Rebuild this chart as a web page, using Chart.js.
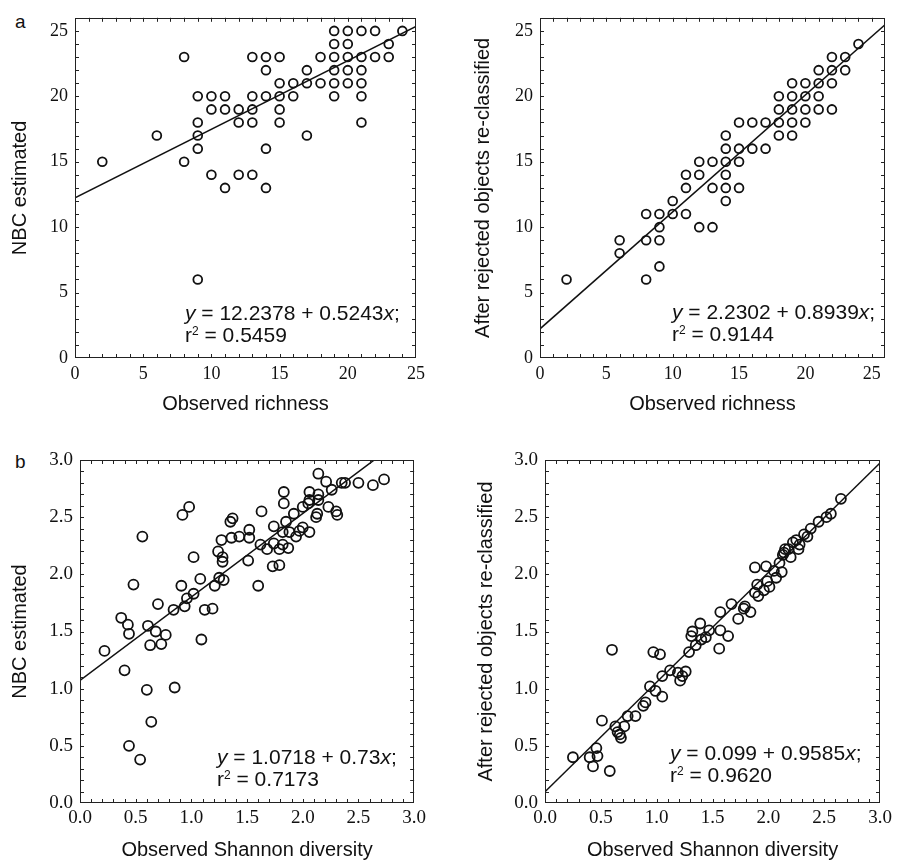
<!DOCTYPE html>
<html>
<head>
<meta charset="utf-8">
<script src="https://cdn.jsdelivr.net/npm/chart.js@4/dist/chart.umd.min.js"></script>
<style>
  html, body { margin: 0; padding: 0; background: #fff; }
  body { width: 898px; height: 862px; position: relative; overflow: hidden;
         font-family: "Liberation Sans", Arial, sans-serif; color: #111; }
  .panel { position: absolute; }
  .eq { position: absolute; font-size: 21px; line-height: 22px; white-space: nowrap; }
  .eq sup { font-size: 12px; vertical-align: 7px; line-height: 0; }
  .tag { position: absolute; font-size: 19px; line-height: 22px; }
</style>
</head>
<body>
<div class="tag" style="left:15px; top:11px;">a</div>
<div class="tag" style="left:15px; top:451px;">b</div>

<div class="panel" style="left:0; top:0; width:430px; height:425px;"><canvas id="c0"></canvas></div>
<div class="panel" style="left:440px; top:0; width:458px; height:425px;"><canvas id="c1"></canvas></div>
<div class="panel" style="left:0; top:430px; width:430px; height:432px;"><canvas id="c2"></canvas></div>
<div class="panel" style="left:440px; top:430px; width:458px; height:432px;"><canvas id="c3"></canvas></div>

<div class="eq" id="eq0" style="left:185px; top:302px;"></div>
<div class="eq" id="eq1" style="left:672px; top:301px;"></div>
<div class="eq" id="eq2" style="left:217px; top:746px;"></div>
<div class="eq" id="eq3" style="left:670px; top:742px;"></div>

<script>
// ---- Richness: observed vs NBC estimated ----
const richObs1 = [2, 6, 8, 8, 9, 9, 9, 9, 9, 10, 10, 10, 11, 11, 11, 12, 12, 12,
  13, 13, 13, 13, 13, 14, 14, 14, 14, 14, 15, 15, 15, 15, 15, 16, 16, 17, 17, 17,
  18, 18, 19, 19, 19, 19, 19, 19, 20, 20, 20, 20, 20, 21, 21, 21, 21, 21, 21,
  22, 22, 23, 23, 24];
const richNbc = [15, 17, 23, 15, 20, 18, 17, 16, 6, 20, 19, 14, 20, 19, 13, 19, 18, 14,
  23, 20, 19, 18, 14, 23, 22, 20, 16, 13, 23, 21, 20, 19, 18, 21, 20, 22, 21, 17,
  23, 21, 25, 24, 23, 22, 21, 20, 25, 24, 23, 22, 21, 25, 23, 22, 21, 20, 18,
  25, 23, 24, 23, 25];

// ---- Richness: observed vs after re-classifying rejected objects ----
const richObs2 = [2, 6, 6, 8, 8, 8, 9, 9, 9, 9, 10, 10, 11, 11, 11, 12, 12, 12,
  13, 13, 13, 14, 14, 14, 14, 14, 14, 15, 15, 15, 15, 16, 16, 17, 17,
  18, 18, 18, 18, 19, 19, 19, 19, 19, 20, 20, 20, 20, 21, 21, 21, 21,
  22, 22, 22, 22, 23, 23, 24];
const richFix = [6, 9, 8, 11, 9, 6, 11, 10, 9, 7, 12, 11, 14, 13, 11, 15, 14, 10,
  15, 13, 10, 17, 16, 15, 14, 13, 12, 18, 16, 15, 13, 18, 16, 18, 16,
  20, 19, 18, 17, 21, 20, 19, 18, 17, 21, 20, 19, 18, 22, 21, 20, 19,
  23, 22, 21, 19, 23, 22, 24];

// ---- Shannon diversity: observed vs NBC estimated ----
const shanObs1 = [0.22, 0.37, 0.43, 0.44, 0.40, 0.48, 0.56, 0.61, 0.63, 0.68, 0.70,
  0.73, 0.77, 0.60, 0.64, 0.44, 0.54, 0.85, 0.84, 0.91, 0.94, 0.92, 0.98, 0.96,
  1.02, 1.02, 1.08, 1.09, 1.12, 1.19, 1.21, 1.25, 1.24, 1.27, 1.28, 1.28, 1.29,
  1.35, 1.37, 1.36, 1.43, 1.51, 1.52, 1.52, 1.60, 1.63, 1.62, 1.68, 1.73, 1.74,
  1.74, 1.79, 1.79, 1.82, 1.83, 1.83, 1.82, 1.85, 1.87, 1.88, 1.92, 1.94, 1.97,
  2.00, 2.00, 2.06, 2.06, 2.06, 2.05, 2.12, 2.14, 2.13, 2.14, 2.14, 2.21, 2.23,
  2.30, 2.31, 2.35, 2.26, 2.38, 2.50, 2.63, 2.73];
const shanNbc = [1.33, 1.62, 1.56, 1.48, 1.16, 1.91, 2.33, 1.55, 1.38, 1.50, 1.74,
  1.39, 1.47, 0.99, 0.71, 0.50, 0.38, 1.01, 1.69, 1.90, 1.72, 2.52, 2.59, 1.79,
  1.83, 2.15, 1.96, 1.43, 1.69, 1.70, 1.90, 1.97, 2.20, 2.30, 2.15, 2.11, 1.95,
  2.46, 2.49, 2.32, 2.33, 2.12, 2.32, 2.39, 1.90, 2.55, 2.26, 2.22, 2.07, 2.42,
  2.27, 2.08, 2.22, 2.26, 2.72, 2.62, 2.37, 2.46, 2.23, 2.37, 2.53, 2.33, 2.38,
  2.59, 2.41, 2.65, 2.37, 2.72, 2.62, 2.50, 2.88, 2.53, 2.65, 2.70, 2.81, 2.59,
  2.55, 2.52, 2.80, 2.74, 2.80, 2.80, 2.78, 2.83];

// ---- Shannon diversity: observed vs after re-classifying rejected objects ----
const shanObs2 = [0.25, 0.40, 0.43, 0.46, 0.47, 0.51, 0.58, 0.60, 0.63, 0.65, 0.68,
  0.67, 0.71, 0.74, 0.81, 0.88, 0.90, 0.94, 0.97, 1.03, 0.99, 1.05, 1.05, 1.12,
  1.19, 1.21, 1.23, 1.26, 1.29, 1.31, 1.32, 1.35, 1.39, 1.40, 1.44, 1.47, 1.56,
  1.57, 1.57, 1.64, 1.67, 1.73, 1.79, 1.84, 1.88, 1.90, 1.88, 1.98, 1.99, 2.01,
  2.10, 2.13, 2.14, 2.07, 1.91, 1.96, 1.78, 2.15, 2.12, 2.18, 2.22, 2.25, 2.28,
  2.32, 2.35, 2.38, 2.45, 2.52, 2.56, 2.65, 2.20, 2.27, 2.05];
const shanFix = [0.40, 0.40, 0.32, 0.48, 0.41, 0.72, 0.28, 1.34, 0.67, 0.62, 0.57,
  0.60, 0.67, 0.76, 0.76, 0.85, 0.88, 1.02, 1.32, 1.30, 0.98, 0.93, 1.11, 1.16,
  1.14, 1.07, 1.11, 1.15, 1.32, 1.46, 1.50, 1.38, 1.57, 1.43, 1.45, 1.51, 1.35,
  1.67, 1.51, 1.46, 1.74, 1.61, 1.72, 1.67, 2.06, 1.91, 1.84, 2.07, 1.94, 1.89,
  2.10, 2.17, 2.19, 1.97, 1.81, 1.86, 1.70, 2.22, 2.02, 2.22, 2.28, 2.30, 2.26,
  2.35, 2.33, 2.40, 2.46, 2.50, 2.53, 2.66, 2.15, 2.22, 2.03];

// Axis tick labels
const richTicks = [0, 5, 10, 15, 20, 25];
const shanTicks = [0, 0.5, 1.0, 1.5, 2.0, 2.5, 3.0];

// Least-squares fits printed on each panel
const fitIntercept = ['12.2378', '2.2302', '1.0718', '0.099'];
const fitSlope     = ['0.5243', '0.8939', '0.73', '0.9585'];
const fitR2        = ['0.5459', '0.9144', '0.7173', '0.9620'];

// Axis titles
const xTitles = ['Observed richness', 'Observed richness',
                 'Observed Shannon diversity', 'Observed Shannon diversity'];
const yTitles = ['NBC estimated', 'After rejected objects re-classified',
                 'NBC estimated', 'After rejected objects re-classified'];

const INK = '#111';
const SERIF = '"Liberation Serif", "Times New Roman", serif';
const SANS = '"Liberation Sans", Arial, sans-serif';

// Box frame with small inward ticks on all four sides
const frameTicks = {
  id: 'frameTicks',
  afterDatasetsDraw(chart, args, opts) {
    const { ctx, chartArea: a, scales: { x, y } } = chart;
    const len = 4;
    ctx.save();
    ctx.strokeStyle = '#222';
    ctx.lineWidth = 1;
    ctx.strokeRect(Math.round(a.left) + 0.5, Math.round(a.top) + 0.5,
                   Math.round(a.width) - 1, Math.round(a.height) - 1);
    ctx.beginPath();
    const n = Math.round((x.max - x.min) / opts.step);
    for (let i = 1; i < n; i++) {
      const px = Math.round(x.getPixelForValue(x.min + i * opts.step)) + 0.5;
      ctx.moveTo(px, a.bottom); ctx.lineTo(px, a.bottom - len);
      ctx.moveTo(px, a.top); ctx.lineTo(px, a.top + len);
    }
    const m = Math.round((y.max - y.min) / opts.step);
    for (let i = 1; i < m; i++) {
      const py = Math.round(y.getPixelForValue(y.min + i * opts.step)) + 0.5;
      ctx.moveTo(a.left, py); ctx.lineTo(a.left + len, py);
      ctx.moveTo(a.right, py); ctx.lineTo(a.right - len, py);
    }
    ctx.stroke();
    ctx.restore();
  }
};

function makePanel(cfg) {
  const i = cfg.index;
  const a = parseFloat(fitIntercept[i]);
  const b = parseFloat(fitSlope[i]);
  const fitLine = [cfg.xMin, cfg.xMax].map(v => ({ x: v, y: a + b * v }));
  const pts = cfg.xs.map((v, k) => ({ x: v, y: cfg.ys[k] }));
  const fmt = v => cfg.decimals ? Number(v).toFixed(1) : String(v);

  document.getElementById('eq' + i).innerHTML =
    '<i>y</i> = ' + fitIntercept[i] + ' + ' + fitSlope[i] + '<i>x</i>;<br>' +
    'r<sup>2</sup> = ' + fitR2[i];

  new Chart(document.getElementById('c' + i), {
    type: 'scatter',
    data: {
      datasets: [
        { data: pts, pointStyle: 'circle', pointRadius: cfg.r, pointHoverRadius: cfg.r,
          pointBorderWidth: 1.8, pointBorderColor: INK, pointBackgroundColor: 'rgba(0,0,0,0)',
          showLine: false, order: 2 },
        { data: fitLine, showLine: true, borderColor: INK, borderWidth: 1.5,
          pointRadius: 0, pointHoverRadius: 0, order: 1 }
      ]
    },
    options: {
      responsive: true, maintainAspectRatio: false, animation: false,
      layout: { padding: cfg.pad },
      plugins: { legend: { display: false }, tooltip: { enabled: false },
                 frameTicks: { step: cfg.step } },
      scales: {
        x: {
          type: 'linear', min: cfg.xMin, max: cfg.xMax,
          grid: { display: false, drawTicks: false }, border: { display: false },
          afterBuildTicks: s => { s.ticks = cfg.ticks.map(v => ({ value: v })); },
          afterFit: s => { s.height = cfg.xH; },
          ticks: { padding: cfg.xTickPad, color: INK, maxRotation: 0, autoSkip: false,
                   font: { family: SERIF, size: cfg.tickSize }, callback: v => fmt(v) },
          title: { display: true, text: xTitles[i], color: INK,
                   font: { family: SANS, size: 20 }, padding: { top: 0, bottom: cfg.xTitlePad } }
        },
        y: {
          type: 'linear', min: cfg.yMin, max: cfg.yMax,
          grid: { display: false, drawTicks: false }, border: { display: false },
          afterBuildTicks: s => { s.ticks = cfg.ticks.map(v => ({ value: v })); },
          afterFit: s => { s.width = cfg.yW; },
          ticks: { padding: 7, color: INK, autoSkip: false,
                   font: { family: SERIF, size: cfg.tickSize }, callback: v => fmt(v) },
          title: { display: true, text: yTitles[i], color: INK,
                   font: { family: SANS, size: 20 }, padding: { top: cfg.yTitlePad, bottom: 0 } }
        }
      }
    },
    plugins: [frameTicks]
  });
}

makePanel({ index: 0, xs: richObs1, ys: richNbc, xMin: 0, xMax: 25, yMin: 0, yMax: 26,
  ticks: richTicks, step: 1, decimals: false, r: 4.4, tickSize: 18,
  pad: { left: 0, top: 12, right: 12, bottom: 0 }, yW: 75, xH: 67,
  xTickPad: 5, xTitlePad: 9, yTitlePad: 8 });

makePanel({ index: 1, xs: richObs2, ys: richFix, xMin: 0, xMax: 26, yMin: 0, yMax: 26,
  ticks: richTicks, step: 1, decimals: false, r: 4.4, tickSize: 18,
  pad: { left: 0, top: 12, right: 13, bottom: 0 }, yW: 100, xH: 67,
  xTickPad: 5, xTitlePad: 9, yTitlePad: 31 });

makePanel({ index: 2, xs: shanObs1, ys: shanNbc, xMin: 0, xMax: 3, yMin: 0, yMax: 3,
  ticks: shanTicks, step: 0.1, decimals: true, r: 5, tickSize: 19,
  pad: { left: 0, top: 30, right: 12, bottom: 0 }, yW: 80, xH: 59,
  xTickPad: 4, xTitlePad: 0, yTitlePad: 8 });

makePanel({ index: 3, xs: shanObs2, ys: shanFix, xMin: 0, xMax: 3, yMin: 0, yMax: 3,
  ticks: shanTicks, step: 0.1, decimals: true, r: 5, tickSize: 19,
  pad: { left: 0, top: 30, right: 18, bottom: 0 }, yW: 105, xH: 59,
  xTickPad: 4, xTitlePad: 0, yTitlePad: 34 });
</script>
</body>
</html>
